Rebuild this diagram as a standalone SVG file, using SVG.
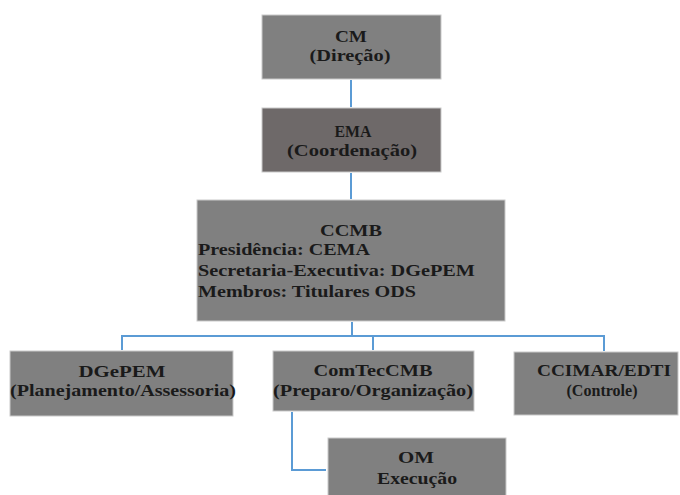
<svg xmlns="http://www.w3.org/2000/svg" width="680" height="495" viewBox="0 0 680 495" font-family="'Liberation Serif', 'Times New Roman', serif">
<style>
.box{fill:#808080;stroke:#c9c9c9;stroke-width:1}
.dark{fill:#6e6969}
.t{font-family:'Liberation Serif','Times New Roman',serif;font-weight:700;font-size:16px;fill:#1a1a1a}
.c{text-anchor:middle}
.conn{stroke:#5b9bd5;stroke-width:2;fill:none}
</style>
<rect width="680" height="495" fill="#ffffff"/>
<g id="connectors">
<line class="conn" x1="351" y1="80" x2="351" y2="107"/>
<line class="conn" x1="351" y1="173" x2="351" y2="199"/>
<line class="conn" x1="352" y1="322" x2="352" y2="336"/>
<polyline class="conn" points="122,350 122,336 604,336 604,351"/>
<line class="conn" x1="373" y1="336" x2="373" y2="350"/>
<polyline class="conn" points="292,412 292,470 326,470"/>
</g>
<g id="cm">
<rect class="box" x="262" y="15" width="179" height="64"/>
<text class="t c" x="351" y="42" textLength="32" lengthAdjust="spacingAndGlyphs">CM</text>
<text class="t c" x="350" y="61" textLength="81" lengthAdjust="spacingAndGlyphs">(Direção)</text>
</g>
<g id="ema">
<rect class="box dark" x="262" y="108" width="179" height="64"/>
<text class="t c" x="353" y="137" textLength="37" lengthAdjust="spacingAndGlyphs">EMA</text>
<text class="t c" x="352" y="156" textLength="130" lengthAdjust="spacingAndGlyphs">(Coordenação)</text>
</g>
<g id="ccmb">
<rect class="box" x="197" y="200" width="308" height="121"/>
<text class="t c" x="351" y="236" textLength="62" lengthAdjust="spacingAndGlyphs">CCMB</text>
<text class="t" x="198" y="255" textLength="172" lengthAdjust="spacingAndGlyphs">Presidência: CEMA</text>
<text class="t" x="198" y="276" textLength="277" lengthAdjust="spacingAndGlyphs">Secretaria-Executiva: DGePEM</text>
<text class="t" x="198" y="297" textLength="218" lengthAdjust="spacingAndGlyphs">Membros: Titulares ODS</text>
</g>
<g id="dgepem">
<rect class="box" x="10" y="351" width="223" height="65"/>
<text class="t c" x="122" y="377" textLength="87" lengthAdjust="spacingAndGlyphs">DGePEM</text>
<text class="t" x="10" y="396" textLength="226" lengthAdjust="spacingAndGlyphs">(Planejamento/Assessoria)</text>
</g>
<g id="comtec">
<rect class="box" x="273" y="351" width="201" height="60"/>
<text class="t c" x="373" y="376" textLength="119" lengthAdjust="spacingAndGlyphs">ComTecCMB</text>
<text class="t c" x="373" y="396" textLength="200" lengthAdjust="spacingAndGlyphs">(Preparo/Organização)</text>
</g>
<g id="ccimar">
<rect class="box" x="514" y="352" width="164" height="63"/>
<text class="t c" x="604" y="376" textLength="134" lengthAdjust="spacingAndGlyphs">CCIMAR/EDTI</text>
<text class="t c" x="602" y="396" textLength="71" lengthAdjust="spacingAndGlyphs">(Controle)</text>
</g>
<g id="om">
<rect class="box" x="328" y="438" width="178" height="60"/>
<text class="t c" x="416" y="463" textLength="36" lengthAdjust="spacingAndGlyphs">OM</text>
<text class="t c" x="417" y="484" textLength="80" lengthAdjust="spacingAndGlyphs">Execução</text>
</g>
</svg>
